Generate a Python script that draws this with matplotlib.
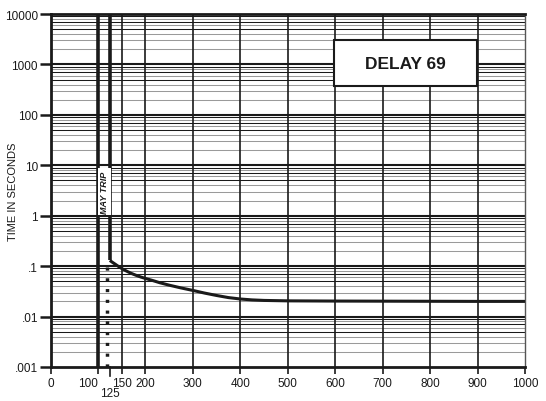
import matplotlib
matplotlib.use("Agg")
import matplotlib.pyplot as plt
from matplotlib.patches import Rectangle

plt.rcParams["font.family"] = ["Liberation Sans", "DejaVu Sans"]

_INK = "#1a1a1a"
_GRAY = "#9a9a9a"

# data
y_ticks = [0.001, 0.01, 0.1, 1, 10, 100, 1000, 10000]
y_tick_labels = [".001", ".01", ".1", "1", "10", "100", "1000", "10000"]
x_ticks = [0, 100, 150, 200, 300, 400, 500, 600, 700, 800, 900, 1000]
x_tick_labels = ["0", "100", "150", "200", "300", "400", "500", "600", "700", "800", "900", "1000"]
x_grid = [150, 200, 300, 400, 500, 600, 700, 800, 900]

pickup_lo = 100
pickup_hi = 125
dotted_x = 119
curve_pct = [125, 130, 136, 143, 150, 160, 170, 180, 190, 200, 215, 230, 250, 275,
             300, 325, 350, 375, 400, 425, 450, 500, 600, 700, 800, 900, 1000]
curve_sec = [0.13, 0.12, 0.11, 0.099, 0.09, 0.08, 0.072, 0.066, 0.061, 0.057,
             0.052, 0.047, 0.042, 0.037, 0.033, 0.0292, 0.0262, 0.0238, 0.0223,
             0.0214, 0.0209, 0.0205, 0.0203, 0.0202, 0.0201, 0.020, 0.020]
trip_top = 10000
dark_minor = [5, 7, 9]

fig = plt.figure(figsize=(5.46, 4.02), dpi=100, facecolor="white")
ax = fig.add_axes([0.0925, 0.0846, 0.869, 0.878])
ax.set_yscale("log")
ax.set_xlim(0, 1000)
ax.set_ylim(0.001, 10000)

# grid: heavy decades, mixed gray / black minors
for dec in y_ticks[:-1]:
    for k in range(2, 10):
        ax.axhline(dec * k, color=_INK if k in dark_minor else _GRAY,
                   lw=0.75, zorder=1)
for dec in y_ticks[1:-1]:
    ax.axhline(dec, color=_INK, lw=1.5, zorder=1.5)
for xv in x_grid:
    ax.axvline(xv, color=_INK, lw=1.2, zorder=1.5)

# pickup band
ax.axvline(pickup_lo, color=_INK, lw=2.6, zorder=3)
ax.plot([pickup_hi, pickup_hi], [curve_sec[0], trip_top], color=_INK, lw=2.6,
        solid_capstyle="butt", zorder=3)
ax.plot([dotted_x, dotted_x], [0.001, curve_sec[0] * 0.95], color=_INK, lw=2.5,
        linestyle=(0, (0.9, 2.2)), zorder=3)

# trip curve
ax.plot(curve_pct, curve_sec, color=_INK, lw=2.2, solid_capstyle="butt",
        solid_joinstyle="round", zorder=4)

ax.text((pickup_lo + pickup_hi) / 2 + 0.5, 3.0, "MAY TRIP", rotation=90,
        ha="center", va="center", fontsize=6.5, fontweight="bold", style="italic",
        color=_INK, zorder=5,
        bbox=dict(facecolor="white", edgecolor="none", pad=1.5))

# title box
ax.add_patch(Rectangle((0.597, 0.796), 0.302, 0.130, transform=ax.transAxes,
                       facecolor="white", edgecolor=_INK, lw=1.5, zorder=6))
ax.text(0.748, 0.861, "DELAY 69", transform=ax.transAxes, ha="center",
        va="center", fontsize=12.5, fontweight="bold", color=_INK, zorder=7)

ax.set_yticks(y_ticks)
ax.set_yticklabels(y_tick_labels)
ax.yaxis.set_minor_locator(matplotlib.ticker.NullLocator())
ax.set_xticks(x_ticks)
ax.set_xticklabels(x_tick_labels)
ax.get_xticklabels()[1].set_horizontalalignment("right")
ax.tick_params(axis="y", direction="out", length=8, width=1.8, colors=_INK,
               labelsize=8.5, pad=1)
ax.tick_params(axis="x", direction="out", length=5, width=1.2, colors=_INK,
               labelsize=8.5, pad=2)
ax.text(pickup_hi, -0.058, "125", transform=ax.get_xaxis_transform(),
        ha="center", va="top", fontsize=8.5, color=_INK)
ax.plot([pickup_hi, pickup_hi], [0, -0.025], transform=ax.get_xaxis_transform(),
        color=_INK, lw=1.2, clip_on=False)

ax.set_ylabel("TIME IN SECONDS", fontsize=8, color=_INK)
ax.yaxis.set_label_coords(-0.068, 0.5)

for side in ("left", "bottom", "top"):
    ax.spines[side].set_linewidth(2)
    ax.spines[side].set_color(_INK)
ax.spines["right"].set_linewidth(1)
ax.spines["right"].set_color("#555555")

fig.savefig("out.png", dpi=100, facecolor="white")
